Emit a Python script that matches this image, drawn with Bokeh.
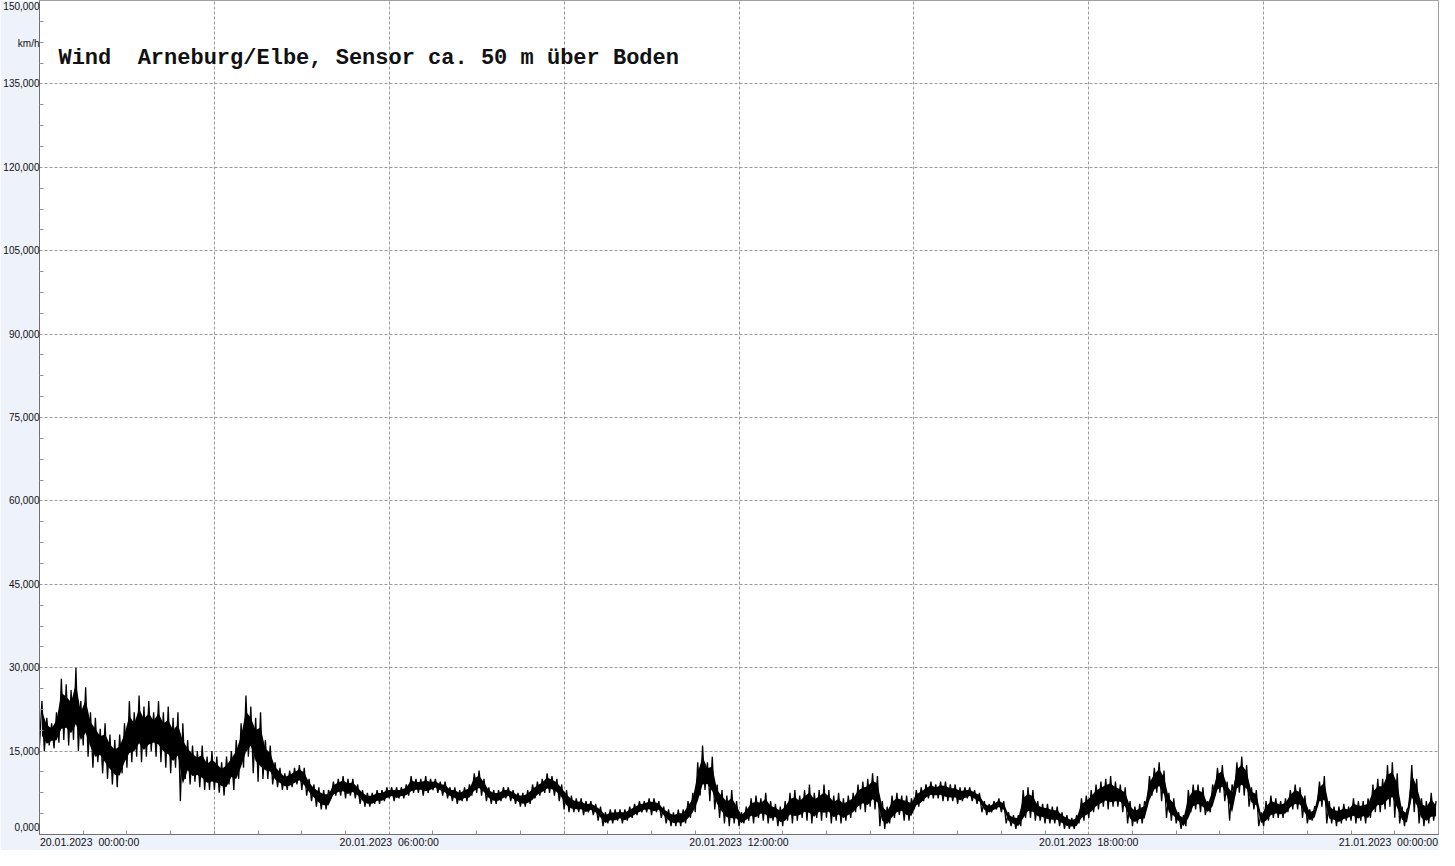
from bokeh.plotting import figure
from bokeh.models import FixedTicker, Label, ColumnDataSource
from bokeh.embed import file_html
from bokeh.resources import INLINE

# ---------------- data ----------------
title_text = "Wind\u00a0 Arneburg/Elbe, Sensor ca. 50 m über Boden"
unit_text = "km/h"

x_tick_hours = [0, 6, 12, 18, 24]
x_tick_labels = ["20.01.2023\u00a0 00:00:00", "20.01.2023\u00a0 06:00:00", "20.01.2023\u00a0 12:00:00",
                 "20.01.2023\u00a0 18:00:00", "21.01.2023\u00a0 00:00:00"]
x_grid_hours = [3, 6, 9, 12, 15, 18, 21]
x_minor_hours = [0.75, 1.5, 2.25, 3, 3.75, 4.5, 5.25, 6.75, 7.5, 8.25, 9, 9.75, 10.5, 11.25,
                 12.75, 13.5, 14.25, 15, 15.75, 16.5, 17.25, 18.75, 19.5, 20.25, 21, 21.75,
                 22.5, 23.25]

y_ticks = [0, 15, 30, 45, 60, 75, 90, 105, 120, 135, 150]
y_minor = [3.75, 7.5, 11.25, 18.75, 22.5, 26.25, 33.75, 37.5, 41.25, 48.75, 52.5, 56.25,
           63.75, 67.5, 71.25, 78.75, 82.5, 86.25, 93.75, 97.5, 101.25, 108.75, 112.5, 116.25,
           123.75, 127.5, 131.25, 138.75, 142.5, 146.25]

# wind speed km/h, 5-minute bins (one row per hour): lower and upper value in each bin
speed_low = [
    16, 15, 16, 15.5, 16.5, 17, 16, 17, 15, 16, 14, 12,
    13, 11, 10, 9, 8.5, 11, 12, 13, 14, 13, 14, 15,
    14, 13, 12, 11, 12, 6, 10, 9, 9.5, 8.5, 8, 8,
    8, 7.5, 7, 9, 8, 10, 12, 14, 11, 9.5, 10, 10,
    9, 8.5, 8, 8, 8.5, 9, 8, 7, 6, 5, 4.5, 4.5,
    6.5, 7, 7, 6.5, 7, 6.5, 5.5, 5, 5, 5.5, 5.5, 6,
    6.5, 6, 6.5, 6.5, 7, 7.5, 7.5, 7, 7.5, 8, 7.5, 7,
    6.5, 6, 5.5, 6, 6, 7, 7.5, 7, 6, 5.5, 5.5, 6,
    6.5, 6, 5.5, 5, 5, 5.5, 6.5, 7, 7.5, 7.5, 7, 6,
    4.5, 4, 4, 4, 3.5, 4, 3.5, 2.5, 1.5, 2, 2, 2.5,
    2, 2.5, 3, 3.5, 4, 4, 3.5, 4, 3, 2, 1.5, 1.5,
    1.5, 2, 3, 4, 7, 8, 6, 4.5, 3, 2, 1.5, 2,
    1.5, 2, 2.5, 2, 3, 2.5, 2, 2.5, 1.5, 1.5, 2.5, 2,
    2.5, 3, 2.5, 2, 3, 2.5, 3, 2, 2.5, 2, 2.5, 3,
    4, 4.5, 4, 5, 4.5, 1.5, 1, 2, 3, 3.5, 2.5, 2.5,
    4.5, 5, 6, 6.5, 6.5, 6.5, 6, 6, 6, 5.5, 6, 6.5,
    6, 5.5, 4, 3.5, 4, 4.5, 4, 2, 1.5, 1, 1.5, 3,
    3, 2.5, 2.5, 2, 2, 2, 1.5, 1, 1, 1, 2, 2.5,
    3, 4, 4.5, 5, 4.5, 5, 5, 4, 2, 1.5, 2, 2,
    5, 7, 7.5, 6, 3, 2.5, 2, 1, 1.5, 4, 4.5, 4,
    3.5, 4, 7, 7.5, 6, 2.5, 7, 7.5, 7, 5, 4.5, 1.5,
    1.5, 2.5, 3, 3, 3, 4, 4.5, 4.5, 3, 2, 2.5, 5,
    5, 2, 2, 1.5, 2, 2.5, 2.5, 2, 2.5, 2, 3, 4,
    4, 4.5, 5, 3, 2, 1.5, 5, 4, 2, 1.5, 2, 2.5,
]
speed_high = [
    24, 21, 20, 22, 28, 27, 26, 30, 24, 26.5, 22, 21,
    19, 20, 18, 17, 18, 20, 24, 22, 25, 23, 24, 22,
    24, 22, 23, 21, 22, 20, 17, 16, 15, 16, 14, 15,
    14, 13, 14, 15, 17, 20, 25, 23, 21, 22, 17, 16,
    13, 12, 11, 11.5, 12, 12.5, 12, 10, 9, 8.5, 8, 8,
    9.5, 10, 10.5, 10, 10, 9, 8, 7.5, 7.5, 8, 8, 8.5,
    8.5, 8.5, 8.5, 9, 10.5, 10, 10, 10.5, 10, 10, 9.5, 9.5,
    8.5, 8.5, 8, 8.5, 9, 11, 11.5, 10, 8.5, 8, 8, 8.5,
    8.5, 8, 7.5, 7.5, 8, 9, 9.5, 10, 11, 10.5, 10, 9,
    8, 7, 6.5, 6.5, 6, 6, 5.5, 5, 4, 4.5, 4.5, 4.5,
    4.5, 5, 5.5, 6, 6, 6.5, 6.5, 6, 5, 4.5, 4, 4.5,
    4.5, 6, 7.5, 13, 16, 13, 14, 9, 8, 7, 8, 6,
    4, 5, 6.5, 7, 6.5, 7.5, 6, 5.5, 5, 6, 7.5, 8,
    7, 8, 9, 7.5, 8, 9, 8, 7, 7.5, 6.5, 7, 7.5,
    9, 9.5, 10, 11, 10.5, 6, 5, 7, 7.5, 7, 7, 6.5,
    8, 8.5, 9, 9.5, 9, 9.5, 9.5, 9, 9, 8.5, 8.5, 8.5,
    8, 7.5, 6, 5.5, 6, 6.5, 6, 4, 3.5, 3.5, 8, 8.5,
    8, 6, 5.5, 5.5, 5, 5, 4, 3.5, 3, 3.5, 6.5, 7,
    8, 9, 9.5, 10, 10.5, 9.5, 9, 8.5, 6, 5, 5.5, 6,
    10.5, 12, 13, 11.5, 7.5, 6.5, 4, 3.5, 8, 9, 9, 8.5,
    6, 9, 12, 12.5, 9.5, 9, 13, 14, 12.5, 8.5, 8, 4,
    6, 7, 6.5, 6, 6.5, 8, 9, 8.5, 7, 4.5, 5, 9.5,
    10.5, 6, 5, 5, 5.5, 5, 6.5, 6, 6, 6.5, 9, 10,
    10, 12.5, 13, 11, 5, 4.5, 12.5, 10, 6.5, 6, 7.5, 6,
]
bin_minutes = 5

# ---------------- series: dense core of each bin + zig-zag through its low and high ----------------
xs, ys = [], []
for i, (lo, hi) in enumerate(zip(speed_low, speed_high)):
    t0 = i * bin_minutes / 60.0
    xs += [t0, t0 + bin_minutes / 120.0]
    ys += [lo, hi]
src = ColumnDataSource(dict(x=xs, y=ys))

core_share = 0.22   # the thin needles beyond the dense core, as in the original trace
band = ColumnDataSource(dict(
    x=[(i + 0.5) * bin_minutes / 60.0 for i in range(len(speed_low))],
    lo=[lo + core_share * (hi - lo) for lo, hi in zip(speed_low, speed_high)],
    hi=[hi - core_share * (hi - lo) for lo, hi in zip(speed_low, speed_high)]))

# ---------------- figure ----------------
BG = "#eef2fb"
TXT = "#111111"
p = figure(width=1439, height=850, x_range=(0, 24), y_range=(0, 150),
           output_backend="svg", toolbar_location=None,
           min_border_left=36, min_border_right=1, min_border_top=0, min_border_bottom=14,
           background_fill_color="white", border_fill_color=BG,
           outline_line_color="#a0a0a0", outline_line_width=1)

p.varea(x="x", y1="lo", y2="hi", source=band, fill_color="black", fill_alpha=1.0)
p.line("x", "y", source=src, line_color="black", line_width=1.3)

label_font = "Liberation Sans"
edge_shift_h = 0.86   # first/last date label kept inside the frame width, as in the original

# x axis
x_label_pos = [x_tick_hours[0] + edge_shift_h] + x_tick_hours[1:-1] + [x_tick_hours[-1] - edge_shift_h]
p.xaxis.ticker = FixedTicker(ticks=x_label_pos, minor_ticks=x_minor_hours)
p.xaxis.major_label_overrides = {pos: lab for pos, lab in zip(x_label_pos, x_tick_labels)}
p.xaxis.major_tick_out = 0
p.xaxis.major_tick_in = 0
p.xaxis.minor_tick_in = 4
p.xaxis.minor_tick_out = 0
p.xaxis.major_label_standoff = 1
p.xaxis.major_label_text_font = label_font
p.xaxis.major_label_text_font_size = "10.5px"
p.xaxis.major_label_text_color = TXT
p.xaxis.axis_line_color = "#707070"
p.xaxis.minor_tick_line_color = "#909090"

# y axis (end labels nudged inside, as in the original; unit label sits at the top of the axis)
unit_pos = 142.3
y_label_pos = [y_ticks[0] + 1.3] + y_ticks[1:-1] + [y_ticks[-1] - 1.1]
y_overrides = {pos: f"{v:.3f}".replace(".", ",") for pos, v in zip(y_label_pos, y_ticks)}
y_overrides[unit_pos] = unit_text
p.yaxis.ticker = FixedTicker(ticks=y_label_pos + [unit_pos], minor_ticks=y_minor)
p.yaxis.major_label_overrides = y_overrides
p.yaxis.major_tick_out = 0
p.yaxis.major_tick_in = 0
p.yaxis.minor_tick_in = 4
p.yaxis.minor_tick_out = 0
p.yaxis.major_label_standoff = 0
p.yaxis.major_label_text_font = label_font
p.yaxis.major_label_text_font_size = "10px"
p.yaxis.major_label_text_color = TXT
p.yaxis.axis_line_color = "#707070"
p.yaxis.minor_tick_line_color = "#909090"

# grids
p.xgrid.ticker = FixedTicker(ticks=x_grid_hours)
p.ygrid.ticker = FixedTicker(ticks=y_ticks[1:-1])
for g in (p.xgrid, p.ygrid):
    g.grid_line_color = "#9a9a9a"
    g.grid_line_dash = "3 2"
    g.grid_line_width = 1

# title inside the plot area
p.add_layout(Label(x=0.325, y=139.6, text=title_text, text_align="left", text_baseline="middle",
                   text_font="Liberation Mono", text_font_style="bold", text_font_size="22px",
                   text_color=TXT))

open("out.html", "w").write(file_html(p, INLINE))
